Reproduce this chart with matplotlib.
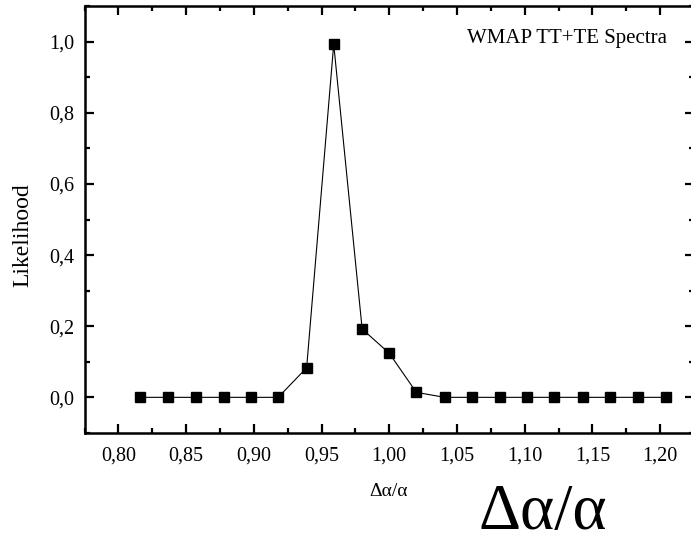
import matplotlib
matplotlib.use("Agg")
import matplotlib.pyplot as plt
from matplotlib.ticker import MultipleLocator

plt.rcParams['font.family'] = ['Liberation Serif', 'DejaVu Serif']

# data
delta_alpha = [0.816, 0.837, 0.857, 0.878, 0.898, 0.918, 0.939, 0.959, 0.980, 1.000,
               1.020, 1.041, 1.061, 1.082, 1.102, 1.122, 1.143, 1.163, 1.184, 1.204]
likelihood = [0.0, 0.0, 0.0, 0.0, 0.0, 0.0, 0.083, 0.993, 0.192, 0.124,
              0.014, 0.0, 0.0, 0.0, 0.0, 0.0, 0.0, 0.0, 0.0, 0.0]

x_ticks = [0.80, 0.85, 0.90, 0.95, 1.00, 1.05, 1.10, 1.15, 1.20]
x_tick_labels = ["0,80", "0,85", "0,90", "0,95", "1,00", "1,05", "1,10", "1,15", "1,20"]
y_ticks = [0.0, 0.2, 0.4, 0.6, 0.8, 1.0]
y_tick_labels = ["0,0", "0,2", "0,4", "0,6", "0,8", "1,0"]

W, H = 691, 545
fig = plt.figure(figsize=(W / 100, H / 100), dpi=100)
left, right, top, bottom = 84.5, 694.0, 6.1, 432.9
ax = fig.add_axes([left / W, 1 - bottom / H, (right - left) / W, (bottom - top) / H])

ax.plot(delta_alpha, likelihood, color='black', lw=0.8, marker='s', ms=7.2,
        markerfacecolor='black', markeredgecolor='black')

ax.set_xlim(0.775, 1.225)
ax.set_ylim(-0.1, 1.1)
ax.set_xticks(x_ticks)
ax.set_xticklabels(x_tick_labels)
ax.set_yticks(y_ticks)
ax.set_yticklabels(y_tick_labels)
ax.xaxis.set_minor_locator(MultipleLocator(0.025))
ax.yaxis.set_minor_locator(MultipleLocator(0.1))

for s in ax.spines.values():
    s.set_linewidth(1.8)
ax.tick_params(which='both', direction='in', top=True, right=True, width=1.6,
               labelsize=14.5)
ax.tick_params(which='major', length=6.5)
ax.tick_params(which='minor', length=3.6)
ax.tick_params(axis='x', which='major', pad=10)
ax.tick_params(axis='y', which='major', pad=7.5)

fig.text(667 / W, 1 - 38 / H, "WMAP TT+TE Spectra",
         ha='right', va='center', fontsize=15)

fig.text(23 / W, 1 - 235 / H, "Likelihood", rotation=90, ha='center', va='center',
         fontsize=17)
fig.text(388 / W, 1 - 492 / H, "Δα/α", ha='center', va='center', fontsize=14)
fig.text(543 / W, 1 - 513 / H, "Δα/α", ha='center', va='center', fontsize=47)

fig.savefig("out.png", dpi=100)
